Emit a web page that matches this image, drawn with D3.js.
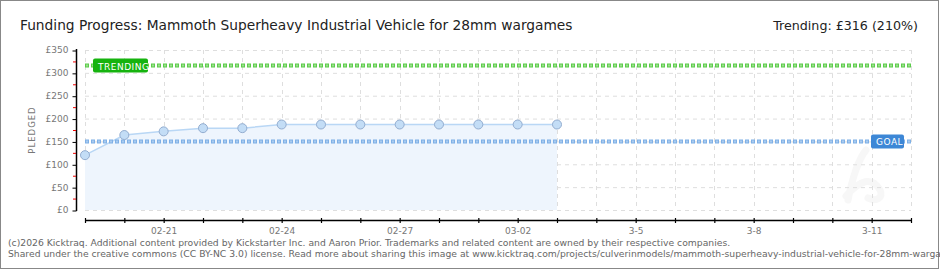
<!DOCTYPE html>
<html>
<head>
<meta charset="utf-8">
<title>Funding Progress</title>
<style>
  body { margin: 0; background: #fff; }
  svg text { font-family: "DejaVu Sans", sans-serif; }
</style>
</head>
<body>
<div id="chart"></div>
<script src="https://cdnjs.cloudflare.com/ajax/libs/d3/7.8.5/d3.min.js"></script>
<script>
// data
const days = ['2026-02-19','2026-02-20','2026-02-21','2026-02-22','2026-02-23','2026-02-24','2026-02-25',
              '2026-02-26','2026-02-27','2026-02-28','2026-03-01','2026-03-02','2026-03-03'];
const pledged = [120, 164, 172, 179, 179, 187, 187, 187, 187, 187, 187, 187, 187];
const goal = 150;
const trending = 316;
const yTicks = [0, 50, 100, 150, 200, 250, 300, 350];
const xLabels = {'2026-02-21': '02-21', '2026-02-24': '02-24', '2026-02-27': '02-27',
                 '2026-03-02': '03-02', '2026-03-05': '3-5', '2026-03-08': '3-8', '2026-03-11': '3-11'};

const W = 940, H = 270;
const parse = d3.timeParse('%Y-%m-%d'), fmt = d3.timeFormat('%Y-%m-%d');
const data = days.map((d, i) => ({date: parse(d), v: pledged[i]}));

const x = d3.scaleTime()
  .domain([parse('2026-02-19'), parse('2026-03-12')])
  .range([85, 911]);
const y = d3.scaleLinear().domain([0, 350]).range([210, 50]);

const svg = d3.select('#chart').append('svg')
  .attr('width', W).attr('height', H);

svg.append('rect').attr('x', 0.5).attr('y', 0.5)
  .attr('width', W - 2).attr('height', H - 2)
  .attr('fill', '#fff').attr('stroke', '#888');

// shrink a text's font until it is the given width
function fitWidth(sel, w) {
  const fs = +sel.attr('font-size');
  sel.attr('font-size', fs * w / sel.node().getComputedTextLength());
}

// title
const title = svg.append('text').attr('x', 20).attr('y', 30)
  .attr('font-size', 15).attr('fill', '#222')
  .attr('font-family', 'DejaVu Sans Condensed, sans-serif')
  .text('Funding Progress: Mammoth Superheavy Industrial Vehicle for 28mm wargames');
fitWidth(title, 553);
const trend = svg.append('text').attr('x', 918).attr('y', 30)
  .attr('text-anchor', 'end')
  .attr('font-size', 15).attr('fill', '#222')
  .attr('font-family', 'DejaVu Sans Condensed, sans-serif')
  .text('Trending: £' + trending + ' (210%)');
fitWidth(trend, 145);

// faint watermark
svg.append('path')
  .attr('d', 'M848,200 C852,180 858,160 866,150 M846,196 C860,180 872,176 880,190 C884,198 876,202 868,198')
  .attr('fill', 'none').attr('stroke', '#f7f7f7').attr('stroke-width', 7)
  .attr('stroke-linecap', 'round');

// grid
const allDays = d3.timeDay.range(parse('2026-02-19'), parse('2026-03-13'));
svg.append('g').selectAll('line').data(yTicks).join('line')
  .attr('x1', 85).attr('x2', 911)
  .attr('y1', d => y(d) + 0.5).attr('y2', d => y(d) + 0.5)
  .attr('stroke', '#dedede').attr('stroke-dasharray', '4,4');
svg.append('g').selectAll('line').data(allDays).join('line')
  .attr('x1', d => Math.round(x(d)) + 0.5).attr('x2', d => Math.round(x(d)) + 0.5)
  .attr('y1', 50).attr('y2', 210)
  .attr('stroke', '#dedede').attr('stroke-dasharray', '4,4');

// area + line
svg.append('path').datum(data)
  .attr('d', d3.area().x(d => x(d.date)).y0(y(0)).y1(d => y(d.v)))
  .attr('fill', '#eef5fd');
svg.append('path').datum(data)
  .attr('d', d3.line().x(d => x(d.date)).y(d => y(d.v)))
  .attr('fill', 'none').attr('stroke', '#b9d7f5').attr('stroke-width', 1.5);

// goal + trending lines
function refLine(val, color, edge) {
  svg.append('line').attr('x1', 85).attr('x2', 911)
    .attr('y1', y(val)).attr('y2', y(val))
    .attr('stroke', edge).attr('stroke-width', 4).attr('stroke-dasharray', '4,2');
  svg.append('line').attr('x1', 86).attr('x2', 911)
    .attr('y1', y(val)).attr('y2', y(val))
    .attr('stroke', color).attr('stroke-width', 2).attr('stroke-dasharray', '2,4');
}
refLine(goal, '#a9cbf0', '#7fb0e6');
refLine(trending, '#9be08e', '#5ccc4a');

// points
svg.append('g').selectAll('circle').data(data).join('circle')
  .attr('cx', d => x(d.date)).attr('cy', d => y(d.v)).attr('r', 4.5)
  .attr('fill', '#c3ddf6').attr('stroke', '#93add0').attr('stroke-width', 1);

// labels on reference lines
function tag(tx, val, w, label, color) {
  svg.append('rect').attr('x', tx).attr('y', y(val) - 7).attr('width', w).attr('height', 14)
    .attr('rx', 2).attr('fill', color);
  svg.append('text').attr('x', tx + 5).attr('y', y(val) + 4)
    .attr('font-size', 9).attr('fill', '#fff').attr('letter-spacing', 0.5)
    .attr('font-family', 'DejaVu Sans Mono, monospace')
    .text(label);
}
tag(93, trending, 55, 'TRENDING', '#16b30f');
tag(871, goal, 33, 'GOAL', '#3d87d6');

// y axis
const yAxis = svg.append('g').attr('transform', 'translate(76.5,0)')
  .call(d3.axisLeft(y).tickValues(yTicks).tickSize(4).tickPadding(4)
    .tickFormat(d => '£' + d));
yAxis.select('.domain').remove();
yAxis.selectAll('line').attr('stroke', '#000').attr('transform', 'translate(0,0.5)');
yAxis.selectAll('text').attr('font-size', 9).attr('fill', '#777')
  .attr('font-family', 'DejaVu Sans Mono, monospace');
svg.append('line').attr('x1', 76.5).attr('x2', 76.5).attr('y1', 49).attr('y2', 211)
  .attr('stroke', '#000').attr('stroke-width', 1.5);
svg.append('g').selectAll('line').data(yTicks.slice(1).map(v => v - 25)).join('line')
  .attr('x1', 73).attr('x2', 76).attr('y1', d => y(d) + 0.5).attr('y2', d => y(d) + 0.5)
  .attr('stroke', '#e00');
svg.append('text').attr('transform', 'translate(35,130) rotate(-90)')
  .attr('text-anchor', 'middle').attr('font-size', 8.5).attr('fill', '#777')
  .attr('letter-spacing', 1).attr('font-family', 'DejaVu Sans Mono, monospace')
  .text('PLEDGED');

// x axis
const xAxis = svg.append('g').attr('transform', 'translate(0,218)')
  .call(d3.axisBottom(x).tickValues(allDays).tickSize(5).tickPadding(5)
    .tickFormat(d => xLabels[fmt(d)] || ''));
xAxis.select('.domain').remove();
xAxis.selectAll('line').attr('stroke', '#000').attr('stroke-width', 1.2);
xAxis.selectAll('text').attr('font-size', 9).attr('fill', '#777')
  .attr('font-family', 'DejaVu Sans Mono, monospace');
svg.append('line').attr('x1', 85).attr('x2', 911).attr('y1', 220.5).attr('y2', 220.5)
  .attr('stroke', '#000').attr('stroke-width', 1.5);

// footer, sized so the first line ends where the reference's does
const foot = [
  '(c)2026 Kicktraq. Additional content provided by Kickstarter Inc. and Aaron Prior. Trademarks and related content are owned by their respective companies.',
  'Shared under the creative commons (CC BY-NC 3.0) license. Read more about sharing this image at www.kicktraq.com/projects/culverinmodels/mammoth-superheavy-industrial-vehicle-for-28mm-wargames/'
];
const footText = svg.append('g').selectAll('text').data(foot).join('text')
  .attr('x', 8).attr('y', (d, i) => 246 + i * 11)
  .attr('font-size', 10).attr('fill', '#666')
  .attr('font-family', 'DejaVu Sans Condensed, sans-serif')
  .text(d => d);
const k = 723 / footText.nodes()[0].getComputedTextLength();
footText.attr('font-size', 10 * k);
</script>
</body>
</html>
